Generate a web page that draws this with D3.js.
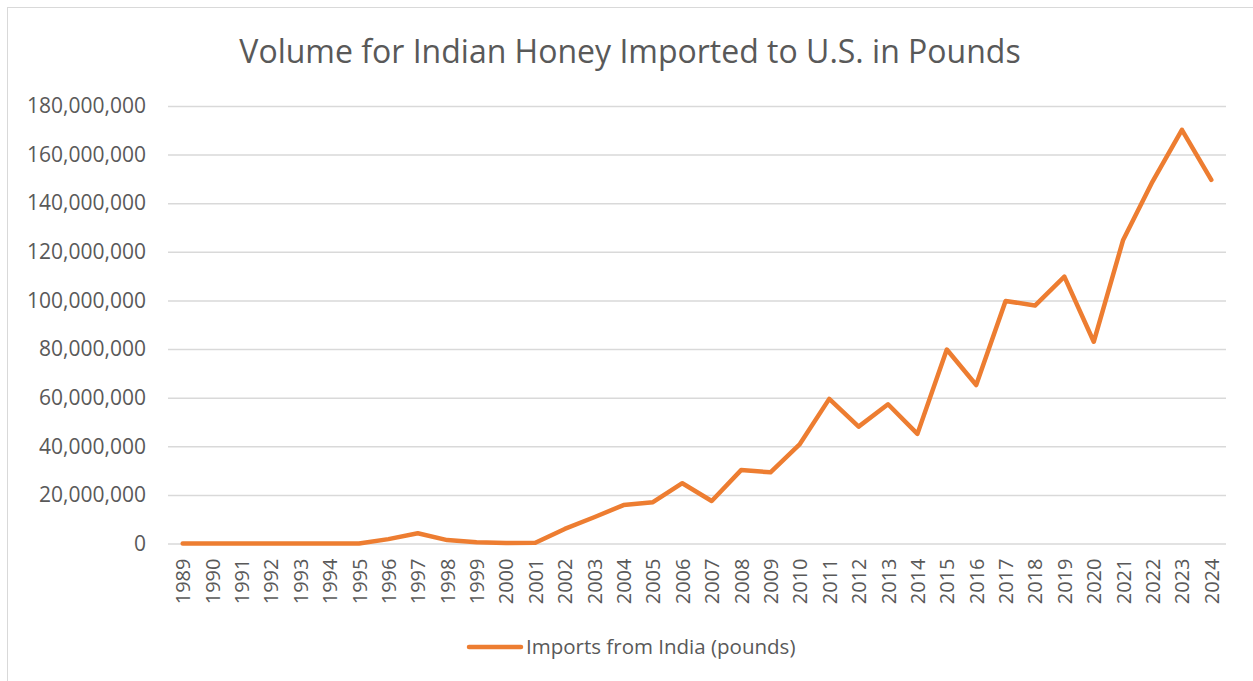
<!DOCTYPE html>
<html>
<head>
<meta charset="utf-8">
<script src="https://cdn.jsdelivr.net/npm/d3@7"></script>
<style>
  body { margin: 0; background: #fff; }
  text { font-family: "Open Sans", "Liberation Sans", sans-serif; fill: #595959; }
</style>
</head>
<body>
<div id="chart"></div>
<script>
const years = ['1989','1990','1991','1992','1993','1994','1995','1996','1997','1998','1999','2000',
  '2001','2002','2003','2004','2005','2006','2007','2008','2009','2010','2011','2012','2013','2014',
  '2015','2016','2017','2018','2019','2020','2021','2022','2023','2024']
const imports = [0,0,0,0,0,0,0,1800000,4200000,1400000,500000,200000,
  300000,6000000,10800000,15800000,17000000,24800000,17500000,30200000,29300000,40900000,59500000,48100000,57300000,45100000,
  79800000,65200000,99800000,97900000,109800000,83000000,124900000,148900000,170200000,149600000]
const yTicks = [0,20000000,40000000,60000000,80000000,100000000,120000000,140000000,160000000,180000000]
const seriesName = 'Imports from India (pounds)'
const chartTitle = 'Volume for Indian Honey Imported to U.S. in Pounds'

const width = 1253, height = 681
const plotLeft = 168, plotRight = 1226, plotTop = 106, plotBottom = 543.5

const svg = d3.select('#chart')
  .append('svg')
  .attr('width', width)
  .attr('height', height)

// chart frame
svg.append('rect')
  .attr('x', 7.5).attr('y', 7.5)
  .attr('width', width + 20).attr('height', height + 20)
  .attr('fill', 'none')
  .attr('stroke', '#d9d9d9')

svg.append('text')
  .text(chartTitle)
  .attr('x', 630)
  .attr('y', 63)
  .attr('text-anchor', 'middle')
  .style('font-size', '32px')

const x = d3.scalePoint()
  .domain(years)
  .range([plotLeft, plotRight])
  .padding(0.5)

const y = d3.scaleLinear()
  .domain([0, 180000000])
  .range([plotBottom, plotTop])

const yAxis = d3.axisLeft(y)
  .tickValues(yTicks)
  .tickSize(-(plotRight - plotLeft))
  .tickPadding(22)
  .tickFormat(d3.format(','))

svg.append('g')
  .attr('transform', `translate(${plotLeft},0)`)
  .call(yAxis)
  .call(g => g.select('.domain').remove())
  .call(g => g.selectAll('line').attr('stroke', '#d9d9d9').attr('stroke-width', 1.5))
  .call(g => g.selectAll('text').style('font-size', '21px').attr('fill', '#595959'))

const xAxis = d3.axisBottom(x).tickSize(0)

svg.append('g')
  .attr('transform', `translate(0,${plotBottom})`)
  .call(xAxis)
  .call(g => g.select('.domain').remove())
  .call(g => g.selectAll('text')
    .style('font-size', '20px')
    .attr('fill', '#595959')
    .attr('text-anchor', 'end')
    .attr('transform', 'rotate(-90)')
    .attr('x', -15)
    .attr('y', 0)
    .attr('dy', '0.35em'))

const line = d3.line()
  .x((d, i) => x(years[i]))
  .y(d => y(d))

svg.append('path')
  .datum(imports)
  .attr('d', line)
  .attr('fill', 'none')
  .attr('stroke', '#ED7D31')
  .attr('stroke-width', 4.5)
  .attr('stroke-linejoin', 'round')
  .attr('stroke-linecap', 'round')

// legend
const legend = svg.append('g').attr('transform', 'translate(469,647)')
legend.append('line')
  .attr('x1', 0).attr('x2', 52)
  .attr('stroke', '#ED7D31')
  .attr('stroke-width', 4.5)
  .attr('stroke-linecap', 'round')
legend.append('text')
  .text(seriesName)
  .attr('x', 57)
  .attr('dy', '0.35em')
  .style('font-size', '20.5px')
</script>
</body>
</html>
